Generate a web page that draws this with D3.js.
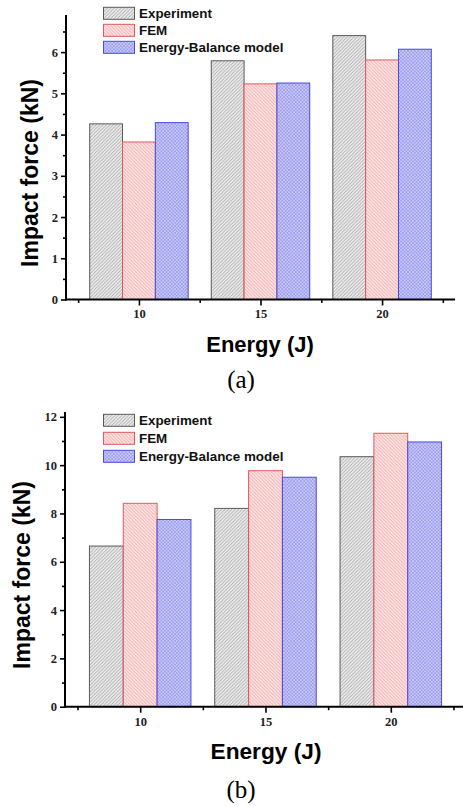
<!DOCTYPE html>
<html>
<head>
<meta charset="utf-8">
<script src="https://cdn.jsdelivr.net/npm/d3@7"></script>
<style>
  html, body { margin: 0; padding: 0; background: #fff; }
  svg { display: block; }
</style>
</head>
<body>
<svg id="chart" width="463" height="807"></svg>
<script>
// ---------- DATA ----------
const energies = [10, 15, 20];
const seriesNames = ["Experiment", "FEM", "Energy-Balance model"];

// Panel (a)
const aExperiment = [4.26, 5.79, 6.40];
const aFEM = [3.82, 5.23, 5.81];
const aEnergyBalance = [4.29, 5.25, 6.07];
const aYTicks = [0, 1, 2, 3, 4, 5, 6];
const aYMinorTicks = [0.5, 1.5, 2.5, 3.5, 4.5, 5.5, 6.5];

// Panel (b)
const bExperiment = [6.65, 8.21, 10.35];
const bFEM = [8.42, 9.77, 11.32];
const bEnergyBalance = [7.75, 9.50, 10.96];
const bYTicks = [0, 2, 4, 6, 8, 10, 12];
const bYMinorTicks = [1, 3, 5, 7, 9, 11];

const xTicks = [10, 15, 20];
const xMinorTicks = [7.5, 12.5, 17.5, 22.5];

const yTitle = "Impact force (kN)";
const xTitle = "Energy (J)";
const panelLabels = ["(a)", "(b)"];

// ---------- STYLE ----------
const svg = d3.select("#chart");
const defs = svg.append("defs");

function hatch(id, bg, color, dirs, size) {
  const p = defs.append("pattern")
    .attr("id", id).attr("patternUnits", "userSpaceOnUse")
    .attr("width", size).attr("height", size);
  p.append("rect").attr("width", size).attr("height", size).attr("fill", bg);
  dirs.forEach(d => {
    if (d === "/") {
      p.append("path").attr("d", `M0,${size} L${size},0 M${-size/2},${size/2} L${size/2},${-size/2} M${size/2},${size*1.5} L${size*1.5},${size/2}`)
        .attr("stroke", color).attr("stroke-width", 0.9);
    } else {
      p.append("path").attr("d", `M0,0 L${size},${size} M${-size/2},${size/2} L${size/2},${size*1.5} M${size/2},${-size/2} L${size*1.5},${size/2}`)
        .attr("stroke", color).attr("stroke-width", 0.9);
    }
  });
}
hatch("pExp", "#f2f2f2", "#a8a8a8", ["/"], 3.4);
hatch("pFem", "#fdeaea", "#f2a8a8", ["\\"], 3.4);
hatch("pEb", "#dcdcfa", "#9a9af0", ["/", "\\"], 3.4);

const fills = ["url(#pExp)", "url(#pFem)", "url(#pEb)"];
const strokes = ["#5a5a5a", "#e4585c", "#4a4ae2"];

const sans = "'Liberation Sans', Arial, sans-serif";
const serif = "'Liberation Serif', 'Times New Roman', serif";

function drawPanel(cfg) {
  const g = svg.append("g");
  const x = d3.scaleLinear().domain([7, 23]).range(cfg.xRange);
  const y = d3.scaleLinear().domain([0, cfg.yMax]).range(cfg.yRange);
  const barW = x(7 + 1.35) - x(7);

  // bars
  cfg.series.forEach((vals, si) => {
    g.selectAll(null).data(energies).enter().append("rect")
      .attr("x", (d) => x(d) - 1.5 * barW + si * barW)
      .attr("y", (d, i) => y(vals[i]))
      .attr("width", barW)
      .attr("height", (d, i) => y(0) - y(vals[i]))
      .attr("fill", fills[si])
      .attr("stroke", strokes[si])
      .attr("stroke-width", 1);
  });

  // y axis
  const yMinor = g.append("g").attr("transform", `translate(${cfg.xRange[0]},0)`)
    .call(d3.axisLeft(y).tickValues(cfg.yMinor).tickSize(3).tickFormat(""));
  const yMajor = g.append("g").attr("transform", `translate(${cfg.xRange[0]},0)`)
    .call(d3.axisLeft(y).tickValues(cfg.yTicks).tickSize(5).tickPadding(3).tickFormat(d3.format("d")));
  // x axis
  const xMinor = g.append("g").attr("transform", `translate(0,${cfg.yRange[0]})`)
    .call(d3.axisBottom(x).tickValues(xMinorTicks).tickSize(3.5).tickFormat(""));
  const xMajor = g.append("g").attr("transform", `translate(0,${cfg.yRange[0]})`)
    .call(d3.axisBottom(x).tickValues(xTicks).tickSize(6).tickPadding(4).tickFormat(d3.format("d")));

  [yMinor, yMajor, xMinor, xMajor].forEach(a => {
    a.select(".domain").remove();
    a.selectAll(".tick line").attr("stroke", "#000").attr("stroke-width", 1.6);
    a.selectAll(".tick text").attr("fill", "#222")
      .style("font-family", serif).style("font-weight", "bold").style("font-size", "12.5px");
  });

  // axis lines
  g.append("line").attr("x1", cfg.xRange[0]).attr("x2", cfg.xRange[0])
    .attr("y1", cfg.yRange[0] + 1).attr("y2", cfg.yRange[1])
    .attr("stroke", "#000").attr("stroke-width", 2);
  g.append("line").attr("x1", cfg.xRange[0]).attr("x2", cfg.xRange[1])
    .attr("y1", cfg.yRange[0]).attr("y2", cfg.yRange[0])
    .attr("stroke", "#000").attr("stroke-width", 2);

  // legend
  seriesNames.forEach((name, i) => {
    const cy = cfg.legendY + i * cfg.legendStep;
    g.append("rect").attr("x", 103.5).attr("y", cy - 6).attr("width", 31).attr("height", 12)
      .attr("fill", fills[i]).attr("stroke", strokes[i]).attr("stroke-width", 1);
    g.append("text").attr("x", 139).attr("y", cy + 4.8).text(name)
      .style("font-family", sans).style("font-weight", "bold").style("font-size", "13.4px")
      .attr("fill", "#111");
  });

  // titles
  g.append("text")
    .attr("transform", `translate(${cfg.yTitleX},${cfg.yTitleY}) rotate(-90)`)
    .attr("text-anchor", "middle").text(yTitle)
    .style("font-family", sans).style("font-weight", "bold").style("font-size", "23px");
  g.append("text").attr("x", cfg.xTitleX).attr("y", cfg.xTitleY)
    .attr("text-anchor", "middle").text(xTitle)
    .style("font-family", sans).style("font-weight", "bold").style("font-size", cfg.xTitleSize);
  g.append("text").attr("x", 241).attr("y", cfg.labelY)
    .attr("text-anchor", "middle").text(cfg.label)
    .style("font-family", serif).style("font-size", "25px");
}

drawPanel({
  series: [aExperiment, aFEM, aEnergyBalance],
  xRange: [66, 455], yRange: [299.5, 15], yMax: 6.9,
  yTicks: aYTicks, yMinor: aYMinorTicks,
  legendY: 13.3, legendStep: 17,
  yTitleX: 37.5, yTitleY: 173, xTitleX: 260, xTitleY: 352, xTitleSize: "22px",
  label: panelLabels[0], labelY: 388
});
drawPanel({
  series: [bExperiment, bFEM, bEnergyBalance],
  xRange: [65, 466], yRange: [706.7, 412], yMax: 12.2,
  yTicks: bYTicks, yMinor: bYMinorTicks,
  legendY: 420.3, legendStep: 18,
  yTitleX: 29.5, yTitleY: 575, xTitleX: 266, xTitleY: 759, xTitleSize: "22.7px",
  label: panelLabels[1], labelY: 798
});
</script>
</body>
</html>
